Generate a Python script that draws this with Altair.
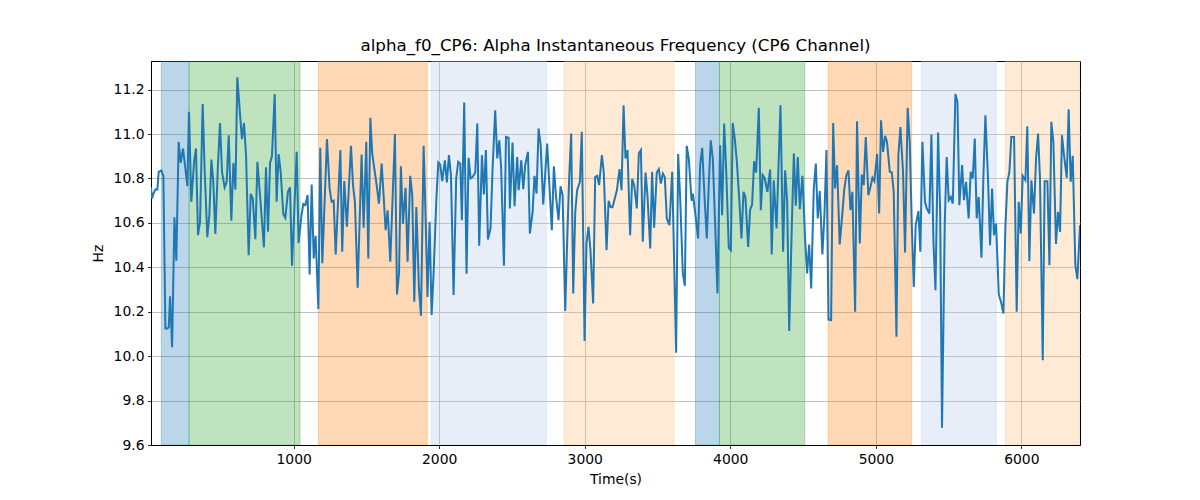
import altair as alt
import pandas as pd

times = [20, 27, 36, 50, 64, 73, 91, 105, 119, 133, 142, 151, 165, 181, 194, 210, 224, 240, 256, 270,
         281, 297, 316, 329, 343, 357, 375, 389, 407, 421, 435, 448, 462, 480, 494, 508, 526, 540, 554, 572,
         586, 600, 613, 632, 645, 659, 673, 691, 705, 719, 737, 751, 769, 796, 810, 824, 838, 851, 870, 883,
         897, 911, 929, 943, 961, 975, 989, 1021, 1034, 1053, 1066, 1080,
         1096, 1110, 1124, 1138, 1151, 1170, 1183, 1197, 1229, 1247, 1261, 1275, 1289, 1321, 1334, 1348, 1366, 1394,
         1408, 1421, 1440, 1467, 1481, 1499, 1513, 1527, 1540, 1572, 1586, 1605, 1618, 1632, 1646, 1664, 1696, 1710,
         1724, 1737, 1751, 1769, 1783, 1801, 1815, 1829, 1843, 1861, 1875, 1893, 1907, 1920, 1934, 1948, 1962, 1980,
         1994, 2007, 2021, 2039, 2053, 2067, 2081, 2099, 2117, 2131, 2145,
         2156, 2172, 2188, 2202, 2216, 2230, 2248, 2262, 2275, 2294, 2307, 2321, 2335, 2353, 2367, 2385, 2399, 2413,
         2426, 2445, 2459, 2477, 2486, 2504, 2518, 2536, 2546, 2564, 2578, 2591, 2610, 2623, 2642, 2655, 2669, 2683,
         2697, 2715, 2742, 2756, 2774, 2788, 2802, 2820, 2834, 2848, 2866, 2880, 2893, 2907, 2921, 2935, 2948, 2967,
         2980, 2999, 3012, 3026, 3040, 3058, 3072, 3086, 3099, 3118, 3131, 3150, 3164, 3177, 3191, 3209,
         3221, 3239, 3253, 3267, 3280, 3294, 3312, 3326, 3340, 3358, 3372, 3386, 3399, 3418, 3431, 3450, 3463, 3477,
         3495, 3509, 3523, 3537, 3550, 3564, 3582, 3601, 3628, 3642, 3656, 3674, 3688, 3701, 3715, 3734, 3743, 3761,
         3779, 3793, 3807, 3825, 3839, 3853, 3866, 3880, 3898, 3912, 3930, 3944, 3958, 3972, 3990, 4004, 4017, 4031,
         4045, 4063, 4077, 4091, 4104, 4123, 4136, 4150, 4164, 4178, 4196, 4210, 4223, 4237, 4255, 4274,
         4285, 4299, 4318, 4331, 4345, 4363, 4377, 4391, 4405, 4423, 4437, 4450, 4464, 4478, 4496, 4514, 4528, 4542,
         4556, 4574, 4588, 4601, 4615, 4633, 4647, 4661, 4675, 4693, 4707, 4720, 4734, 4752, 4771, 4784, 4798, 4812,
         4826, 4839, 4858, 4871, 4890, 4904, 4917, 4931, 4949, 4963, 4977, 4990, 5009, 5023, 5036, 5050, 5064, 5077,
         5096, 5110, 5123, 5142, 5155, 5169, 5187, 5201, 5219, 5233, 5247, 5261, 5274, 5293, 5306, 5320, 5338,
         5350, 5368, 5382, 5396, 5410, 5428, 5442, 5455, 5474, 5487, 5501, 5515, 5529, 5547, 5561, 5574, 5593, 5606,
         5620, 5638, 5652, 5666, 5680, 5693, 5707, 5726, 5739, 5753, 5771, 5785, 5799, 5812, 5826, 5845, 5863, 5877,
         5890, 5904, 5918, 5931, 5950, 5968, 5982, 5996, 6009, 6028, 6041, 6055, 6069, 6087, 6101, 6115, 6128, 6147,
         6160, 6179, 6193, 6206, 6220, 6238, 6252, 6266, 6279, 6293, 6312, 6325, 6339, 6353, 6371, 6385, 6403]

values = [10.76, 10.71, 10.73, 10.75, 10.75, 10.83, 10.836, 10.81, 10.125, 10.125, 10.13, 10.27, 10.04, 10.625, 10.43, 10.965, 10.87, 10.935, 10.845, 10.765,
          11.10, 10.695, 10.875, 10.935, 10.545, 10.605, 11.135, 10.83, 10.536, 10.635, 10.885, 10.785, 10.55, 10.86, 11.05, 10.83, 10.76, 10.785, 10.995, 10.61,
          10.87, 10.75, 11.256, 11.085, 10.977, 11.05, 10.905, 10.455, 10.73, 10.71, 10.527, 10.875, 10.725, 10.49, 10.85, 10.56, 10.87, 10.90, 11.18, 10.695,
          10.91, 10.83, 10.64, 10.623, 10.74, 10.76, 10.407, 10.92, 10.51, 10.63, 10.685, 10.68,
          10.725, 10.368, 10.773, 10.44, 10.542, 10.212, 10.938, 10.418, 10.977, 10.755, 10.695, 10.70, 10.458, 10.928, 10.47, 10.788, 10.583, 10.947,
          10.77, 10.695, 10.308, 10.908, 10.578, 10.965, 10.44, 11.073, 10.912, 10.762, 10.687, 10.867, 10.725, 10.567, 10.657, 10.425, 11.0, 10.278,
          10.372, 10.855, 10.597, 10.758, 10.425, 10.812, 10.725, 10.245, 10.672, 10.305, 10.182, 10.947, 10.62, 10.266, 10.605, 10.185, 10.38, 10.695,
          10.872, 10.863, 10.788, 10.882, 10.782, 10.905, 10.815, 10.275, 10.80, 10.875, 10.867,
          10.612, 11.142, 10.371, 10.893, 10.80, 10.807, 10.827, 11.047, 10.497, 10.905, 10.728, 10.928, 10.525, 10.578, 10.845, 11.107, 10.89, 10.972,
          10.845, 10.407, 10.987, 10.983, 10.665, 10.962, 10.675, 10.897, 10.747, 10.882, 10.752, 10.86, 10.92, 10.552, 10.65, 10.812, 10.732, 11.025,
          10.953, 10.683, 10.957, 10.785, 10.567, 10.855, 10.725, 10.612, 10.765, 10.725, 10.203, 10.53, 10.80, 11.002, 10.282, 10.65, 10.747, 10.785,
          11.01, 10.068, 10.507, 10.582, 10.47, 10.237, 10.807, 10.812, 10.77, 10.905, 10.827, 10.477, 10.70, 10.672, 10.67, 10.717,
          10.747, 10.842, 10.747, 11.13, 10.89, 10.928, 10.545, 10.797, 10.77, 10.665, 10.912, 10.928, 10.515, 10.827, 10.725, 10.485, 10.83, 10.578,
          10.827, 10.842, 10.777, 10.822, 10.807, 10.62, 10.59, 10.83, 10.015, 10.91, 10.71, 10.372, 10.317, 10.947, 10.89, 10.70, 10.732, 10.635,
          10.53, 10.86, 10.938, 10.695, 10.53, 10.785, 10.972, 10.89, 10.56, 10.282, 10.95, 10.635, 11.047, 10.837, 10.488, 10.477, 11.05, 10.98,
          10.878, 10.695, 10.53, 10.74, 10.717, 10.492, 10.657, 10.683, 10.878, 10.827, 11.118, 10.657, 10.815, 10.80, 10.74, 10.84,
          10.458, 10.792, 10.575, 10.845, 11.13, 10.47, 10.837, 10.695, 10.113, 10.59, 10.912, 10.677, 10.897, 10.662, 10.812, 10.53, 10.372, 10.503,
          10.305, 10.755, 10.867, 10.62, 10.743, 10.458, 10.635, 10.928, 10.165, 10.162, 11.05, 10.755, 10.86, 10.503, 10.65, 10.755, 10.815, 10.837,
          10.657, 10.74, 10.20, 11.058, 10.507, 10.818, 10.77, 10.987, 10.725, 10.762, 10.803, 10.788, 10.91, 10.642, 11.062, 10.92, 10.992, 10.965,
          10.83, 10.827, 10.74, 10.087, 10.905, 11.032, 10.83, 10.467, 11.118, 10.965, 10.597, 10.312, 10.59, 10.653, 10.47, 10.965, 10.695,
          10.665, 10.642, 10.998, 10.515, 10.297, 11.007, 10.65, 9.678, 10.605, 10.897, 10.702, 10.717, 10.687, 11.18, 11.145, 10.68, 10.86, 10.702,
          10.785, 10.62, 10.83, 10.80, 10.98, 10.62, 10.717, 10.443, 10.803, 11.085, 10.80, 10.50, 10.755, 10.545, 10.597, 10.278, 10.237, 10.192,
          10.575, 10.785, 10.83, 10.987, 10.987, 10.20, 10.695, 10.552, 10.812, 10.792, 11.035, 10.428, 10.792, 10.642, 10.89, 11.002, 10.80, 9.982,
          10.788, 10.788, 10.41, 11.055, 10.965, 10.505, 10.65, 10.56, 10.995, 10.905, 10.803, 11.112, 10.785, 10.902, 10.41, 10.347, 10.59]

span_start = [91, 282, 1170, 1946, 2859, 3761, 3926, 4672, 5313, 5890]
span_end = [282, 1044, 1918, 2736, 3613, 3926, 4512, 5247, 5828, 6403]
span_color = ["#1f77b4", "#2ca02c", "#ff7f0e", "#aec7e8", "#ffbb78",
              "#1f77b4", "#2ca02c", "#ff7f0e", "#aec7e8", "#ffbb78"]

x_ticks = [1000, 2000, 3000, 4000, 5000, 6000]
y_ticks = [9.6, 9.8, 10.0, 10.2, 10.4, 10.6, 10.8, 11.0, 11.2]

df = pd.DataFrame({"t": times, "hz": values})
spans = pd.DataFrame({"start": span_start, "end": span_end, "color": span_color})

FONT = "DejaVu Sans"
x_scale = alt.Scale(domain=[20, 6403], nice=False, zero=False)
y_scale = alt.Scale(domain=[9.6, 11.329], nice=False, zero=False)

x_axis = alt.Axis(title="Time(s)", values=x_ticks, format="d")
y_axis = alt.Axis(title="Hz", values=y_ticks, format=".1f")

rects = alt.Chart(spans).mark_rect(
    fillOpacity=0.3, strokeOpacity=0.3, strokeWidth=1, clip=True
).encode(
    x=alt.X("start:Q", scale=x_scale, axis=x_axis),
    x2="end:Q",
    fill=alt.Fill("color:N", scale=None),
    stroke=alt.Stroke("color:N", scale=None),
)

line = alt.Chart(df).mark_line(color="#1f77b4", strokeWidth=2, clip=True).encode(
    x=alt.X("t:Q", scale=x_scale, axis=x_axis),
    y=alt.Y("hz:Q", scale=y_scale, axis=y_axis),
)

chart = alt.layer(rects, line).properties(
    width=929,
    height=384,
    autosize="none",
    padding={"left": 143, "top": 53, "right": 112, "bottom": 47},
    title=alt.TitleParams(
        "alpha_f0_CP6: Alpha Instantaneous Frequency (CP6 Channel)",
        fontSize=16.7, fontWeight="normal", font=FONT, color="black",
        anchor="middle", offset=6,
    ),
).configure_view(
    stroke="black", strokeWidth=1
).configure_axis(
    grid=True, gridColor="#b0b0b0", gridWidth=0.8,
    domainColor="black", domainWidth=1,
    tickColor="black", tickSize=3.5, tickWidth=0.8,
    labelFont=FONT, labelFontSize=13.9, labelColor="black", labelPadding=3.5,
    titleFont=FONT, titleFontSize=13.9, titleFontWeight="normal", titleColor="black",
).configure_axisX(
    titlePadding=7
).configure_axisY(
    titlePadding=8
)

chart.save("out.html", embed_options={"renderer": "svg", "actions": False})
